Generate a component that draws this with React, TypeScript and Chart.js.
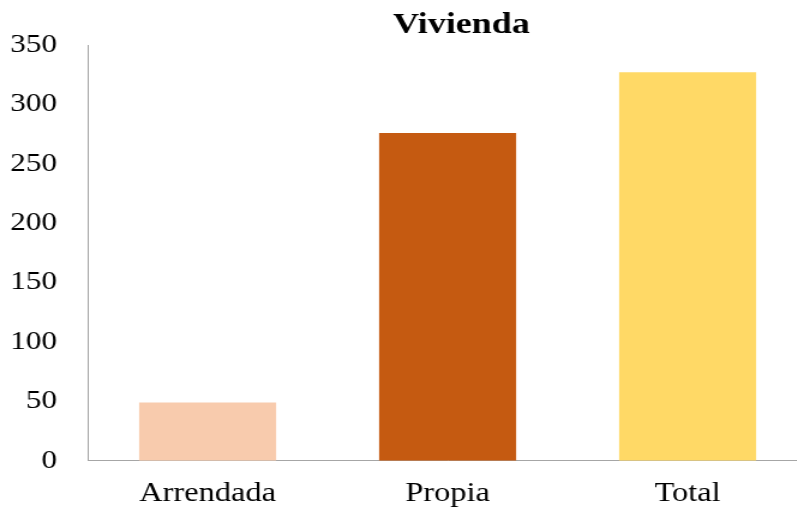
import React, { useEffect, useRef } from "react";
import { Chart, registerables } from "chart.js";

Chart.register(...registerables);

const title = "Vivienda";
const categories = ["Arrendada", "Propia", "Total"];
const values = [49, 276, 327];
const barColors = ["#F8CBAD", "#C55A11", "#FFD966"];
const yTicksMin = 0;
const yTicksMax = 350;
const yTicksStep = 50;

const FONT = "'Liberation Serif', 'Times New Roman', serif";

export default function App() {
  const ref = useRef<HTMLCanvasElement | null>(null);

  useEffect(() => {
    if (!ref.current) return;
    const chart = new Chart(ref.current, {
      type: "bar",
      data: {
        labels: categories,
        datasets: [
          {
            data: values,
            backgroundColor: barColors,
            borderWidth: 0,
            categoryPercentage: 1,
            barPercentage: 0.571,
          },
        ],
      },
      options: {
        responsive: false,
        animation: false,
        devicePixelRatio: 1,
        layout: { padding: 0 },
        plugins: {
          legend: { display: false },
          tooltip: { enabled: false },
          title: {
            display: true,
            text: title,
            color: "#000",
            font: { family: FONT, size: 30, weight: "bold", lineHeight: 1.2 },
            padding: { top: 7, bottom: 2 },
          },
        },
        scales: {
          x: {
            grid: { display: false, drawTicks: false },
            border: { display: true, color: "#a6a6a6", width: 1 },
            ticks: {
              color: "#000",
              font: { family: FONT, size: 27, lineHeight: 1.2 },
              padding: 17,
              maxRotation: 0,
              autoSkip: false,
            },
            afterFit: (s: any) => {
              s.height = 47.3;
            },
          },
          y: {
            min: yTicksMin,
            max: yTicksMax,
            grid: { display: false, drawTicks: false },
            border: { display: true, color: "#a6a6a6", width: 1 },
            ticks: {
              stepSize: yTicksStep,
              color: "#000",
              font: { family: FONT, size: 26, lineHeight: 1.2 },
              padding: 25.5,
            },
            afterFit: (s: any) => {
              s.width = 73;
            },
          },
          y2: {
            position: "right",
            display: true,
            grid: { display: false, drawTicks: false },
            border: { display: false },
            ticks: { display: false },
            afterFit: (s: any) => {
              s.width = 96;
            },
          },
        },
      },
    } as any);
    return () => chart.destroy();
  }, []);

  return (
    <div
      style={{
        position: "fixed",
        left: 0,
        top: 0,
        width: 797,
        height: 508,
        overflow: "hidden",
        background: "#fff",
      }}
    >
      <canvas
        ref={ref}
        width={769}
        height={508}
        style={{ display: "block", transform: "scaleX(1.2)", transformOrigin: "0 0" }}
      />
    </div>
  );
}
